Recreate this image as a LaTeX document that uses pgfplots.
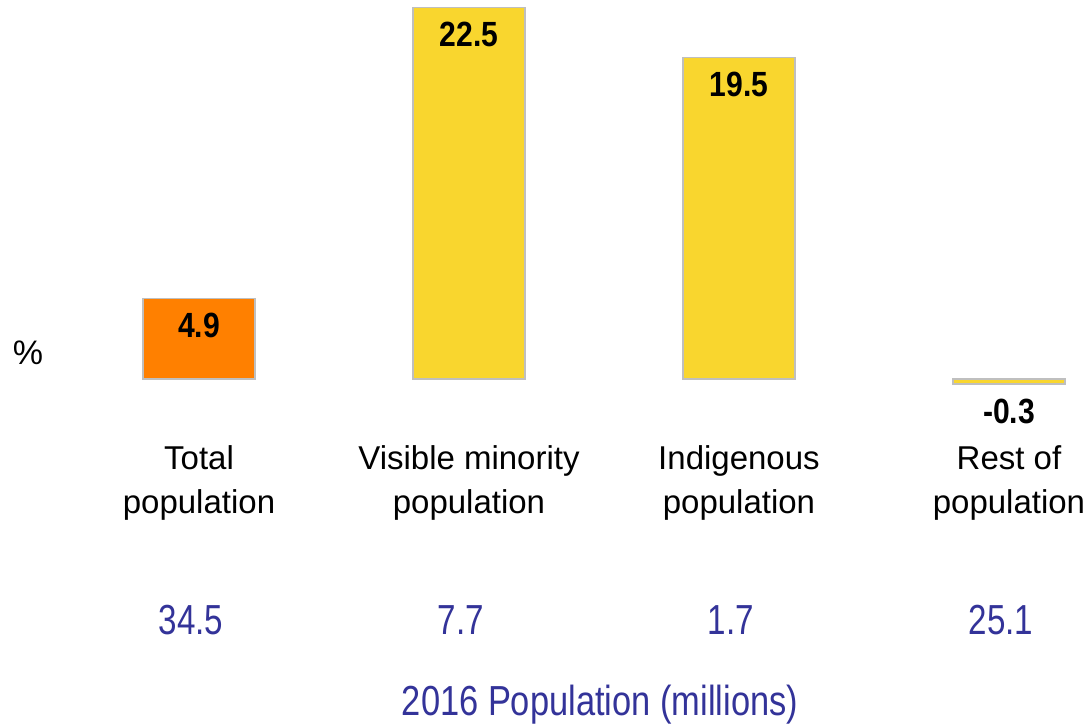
\documentclass[border=0pt]{standalone}
\usepackage{fontspec}
\setmainfont{Liberation Sans}
\usepackage{pgfplots}
\pgfplotsset{compat=1.18}

\definecolor{barorange}{HTML}{FF8000}
\definecolor{baryellow}{HTML}{F9D62E}
\definecolor{bardraw}{HTML}{BFBFBF}
\definecolor{popblue}{HTML}{333399}

\begin{document}
\begin{tikzpicture}
\path[use as bounding box] (0,0) rectangle (543.5pt,362.5pt);
\begin{axis}[
    at={(0pt,147.5pt)}, anchor=south west,
    scale only axis,
    width=543.5pt, height=215pt,
    xmin=-0.737, xmax=3.289,
    ymin=-3.09, ymax=22.97,
    axis line style={draw=none},
    major tick length=0pt,
    ytick=\empty,
    xtick={0,1,2,3},
    xticklabels={{Total\\population},{Visible minority\\population},{Indigenous\\population},{Rest of\\population}},
    xticklabel style={anchor=north, inner sep=0pt, yshift=-7.5pt, align=center,
        font=\fontsize{16.5}{22}\selectfont},
    extra x ticks={0,1,2,3},
    extra x tick labels={34.5,7.7,1.7,25.1},
    extra x tick style={xticklabel style={yshift=-80pt, xshift=-4pt,
        text=popblue, font=\fontsize{21}{25}\selectfont, xscale=0.79}},
    xlabel={2016 Population (millions)},
    xlabel style={at={(axis description cs:0.552,-0.663)}, anchor=base,
        text=popblue, font=\fontsize{21}{25}\selectfont, xscale=0.82},
    ylabel={\%},
    ylabel style={at={(axis description cs:0.0258,0.179)}, anchor=center, rotate=-90,
        font=\fontsize{17}{20}\selectfont},
    ybar, bar width=56pt, bar shift=0pt,
    nodes near coords={\pgfmathprintnumber{\pgfplotspointmeta}},
    nodes near coords style={anchor=north, inner sep=0pt, yshift=-7pt,
        font=\bfseries\fontsize{17.5}{21}\selectfont, xscale=0.86, text=black,
        /pgf/number format/.cd, fixed, precision=1, fixed zerofill, assume math mode=true},
]
\addplot[fill=barorange, draw=bardraw, line width=0.6pt] coordinates {(0,4.9)};
\addplot[fill=baryellow, draw=bardraw, line width=0.6pt] coordinates {(1,22.5) (2,19.5) (3,-0.3)};
\end{axis}
\end{tikzpicture}
\end{document}
